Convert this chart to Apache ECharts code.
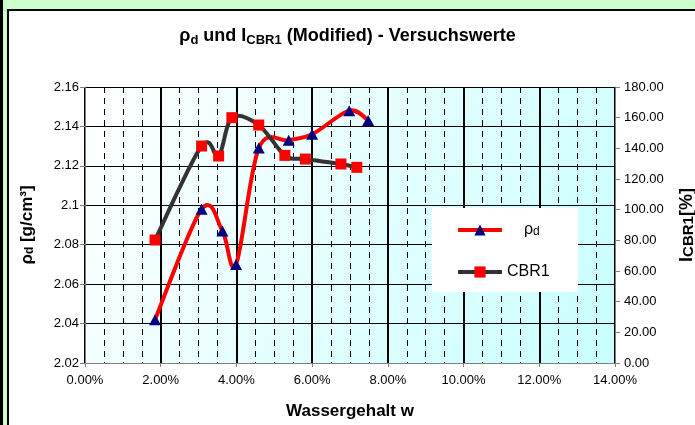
<!DOCTYPE html>
<html>
<head>
<meta charset="utf-8">
<script src="https://cdn.jsdelivr.net/npm/echarts/dist/echarts.min.js"></script>
<style>
  html, body { margin: 0; padding: 0; background: #ffffff; overflow: hidden; }
  #chart { width: 695px; height: 425px; }
</style>
</head>
<body>
<div id="chart"></div>
<script>
const FONT = "'Liberation Sans', Arial, sans-serif";

// Trockendichte ρd [g/cm³] über Wassergehalt w [%]
const wRho = [1.85, 3.08, 3.63, 3.99, 4.59, 5.38, 6.00, 6.98, 7.48];
const rhoD = [2.042, 2.098, 2.087, 2.070, 2.129, 2.133, 2.136, 2.148, 2.143];

// CBR1-Werte [%] über Wassergehalt w [%]
const wCbr = [1.85, 3.08, 3.53, 3.88, 4.59, 5.28, 5.82, 6.76, 7.18];
const cbr1 = [80.2, 141.5, 135.0, 160.0, 155.2, 135.4, 133.0, 129.8, 127.6];

// Achsenbereiche: [min, max, Schrittweite]
const wAxis = [0, 14, 2];
const rhoAxis = [2.02, 2.16, 0.02];
const cbrAxis = [0, 180, 20];

const seriesNames = ['ρd', 'CBR1'];

function richSet(size, subSize) {
  return {
    m: { fontSize: size, fontWeight: 'bold', fontFamily: FONT, color: '#000', verticalAlign: 'middle' },
    s: { fontSize: subSize, fontWeight: 'bold', fontFamily: FONT, color: '#000', verticalAlign: 'bottom' }
  };
}

// Geglättete Kurve (Catmull-Rom -> kubische Bézier) zwischen den Messpunkten,
// ein Segment pro Datenelement, Pixelkoordinaten über api.coord der Achsen.
function smoothSegments(xs, ys, color) {
  return function (params, api) {
    const i = params.dataIndex;
    const n = xs.length;
    const p = k => api.coord([xs[Math.max(0, Math.min(n - 1, k))], ys[Math.max(0, Math.min(n - 1, k))]]);
    const p0 = p(i - 1), p1 = p(i), p2 = p(i + 1), p3 = p(i + 2);
    const t = 1 / 6;
    return {
      type: 'bezierCurve',
      shape: {
        x1: p1[0], y1: p1[1],
        x2: p2[0], y2: p2[1],
        cpx1: p1[0] + (p2[0] - p0[0]) * t,
        cpy1: p1[1] + (p2[1] - p0[1]) * t,
        cpx2: p2[0] - (p3[0] - p1[0]) * t,
        cpy2: p2[1] - (p3[1] - p1[1]) * t
      },
      style: { stroke: color, lineWidth: 4, fill: null, lineCap: 'round' },
      silent: true
    };
  };
}

const chart = echarts.init(document.getElementById('chart'), null, { renderer: 'canvas' });

const option = {
  animation: false,
  backgroundColor: '#ffffff',
  textStyle: { fontFamily: FONT },
  title: {
    text: '{m|ρ}{s|d}{m| und I}{s|CBR1}{m| (Modified) - Versuchswerte}',
    left: 'center',
    top: 20,
    textStyle: { fontSize: 18, lineHeight: 22, rich: richSet(18, 13) }
  },
  graphic: {
    elements: [
      { type: 'rect', shape: { x: 0, y: 0, width: 695, height: 10 }, style: { fill: '#ccffcc' }, silent: true },
      { type: 'rect', shape: { x: 0, y: 0, width: 8, height: 425 }, style: { fill: '#ccffcc' }, silent: true },
      { type: 'rect', shape: { x: 0, y: 0, width: 3, height: 425 }, style: { fill: '#000000' }, silent: true },
      { type: 'rect', shape: { x: 7, y: 9, width: 688, height: 2 }, style: { fill: '#000000' }, silent: true },
      { type: 'rect', shape: { x: 7, y: 9, width: 2, height: 416 }, style: { fill: '#000000' }, silent: true },
      { type: 'rect', z: 3, shape: { x: 432, y: 208, width: 146, height: 84 }, style: { fill: '#ffffff' }, silent: true }
    ]
  },
  legend: {
    orient: 'vertical',
    left: 456,
    top: 222,
    padding: 0,
    itemWidth: 44,
    itemHeight: 14,
    itemGap: 26,
    data: [
      { name: seriesNames[0], lineStyle: { color: '#ff0000', width: 4, opacity: 1 } },
      { name: seriesNames[1], lineStyle: { color: '#333333', width: 4, opacity: 1 } }
    ],
    formatter: function (name) {
      return name === 'ρd' ? '{p|ρ}{ps|d}' : '{c|CBR1}';
    },
    textStyle: {
      color: '#000',
      fontSize: 16,
      fontFamily: FONT,
      rich: {
        p: { fontSize: 16, fontFamily: FONT, color: '#000', padding: [0, 0, 0, 17], verticalAlign: 'middle' },
        ps: { fontSize: 12, fontFamily: FONT, color: '#000', verticalAlign: 'bottom' },
        c: { fontSize: 16, fontFamily: FONT, color: '#000' }
      }
    }
  },
  grid: {
    left: 85,
    right: 80,
    top: 87,
    bottom: 62,
    outerBoundsMode: 'none',
    containLabel: false,
    show: true,
    borderWidth: 0,
    backgroundColor: {
      type: 'linear', x: 0, y: 0, x2: 1, y2: 1,
      colorStops: [{ offset: 0, color: '#ffffff' }, { offset: 1, color: '#c8ffff' }]
    }
  },
  xAxis: {
    type: 'value',
    min: wAxis[0],
    max: wAxis[1],
    interval: wAxis[2],
    name: 'Wassergehalt w',
    nameLocation: 'middle',
    nameGap: 40,
    nameTextStyle: { fontSize: 17, fontWeight: 'bold', color: '#000', fontFamily: FONT },
    axisLine: { show: true, lineStyle: { color: '#808080', width: 1 } },
    axisTick: { show: true, length: 4, lineStyle: { color: '#808080' } },
    axisLabel: {
      color: '#000', fontSize: 13, fontFamily: FONT, margin: 11,
      formatter: v => v.toFixed(2) + '%'
    },
    splitLine: { show: true, lineStyle: { color: '#000000', width: 2 } },
    minorTick: { show: false, splitNumber: 4 },
    minorSplitLine: { show: true, lineStyle: { color: '#000000', width: 1, type: [6, 5] } }
  },
  yAxis: [
    {
      type: 'value',
      min: rhoAxis[0],
      max: rhoAxis[1],
      interval: rhoAxis[2],
      name: '{m|ρ}{s|d}{m| [g/cm³]}',
      nameLocation: 'middle',
      nameRotate: 90,
      nameGap: 49,
      nameTextStyle: { fontSize: 17, rich: richSet(17, 12) },
      axisLine: { show: true, lineStyle: { color: '#808080', width: 1 } },
      axisTick: { show: true, length: 5, lineStyle: { color: '#808080' } },
      axisLabel: { color: '#000', fontSize: 13, fontFamily: FONT, margin: 6 },
      splitLine: { show: true, lineStyle: { color: '#000000', width: 1 } }
    },
    {
      type: 'value',
      position: 'right',
      min: cbrAxis[0],
      max: cbrAxis[1],
      interval: cbrAxis[2],
      name: '{m|I}{s|CBR1}{m|[%]}',
      nameLocation: 'middle',
      nameRotate: 90,
      nameGap: 63,
      nameTextStyle: { fontSize: 18, rich: richSet(18, 15) },
      axisLine: { show: true, lineStyle: { color: '#808080', width: 1 } },
      axisTick: { show: true, length: 5, lineStyle: { color: '#808080' } },
      axisLabel: { color: '#000', fontSize: 13, fontFamily: FONT, margin: 9, formatter: v => v.toFixed(2) },
      splitLine: { show: false }
    }
  ],
  series: [
    {
      type: 'custom',
      yAxisIndex: 0,
      data: wRho.slice(0, -1).map((w, i) => [w, rhoD[i]]),
      renderItem: smoothSegments(wRho, rhoD, '#ff0000'),
      z: 2,
      silent: true
    },
    {
      name: seriesNames[0],
      type: 'line',
      yAxisIndex: 0,
      data: wRho.map((w, i) => [w, rhoD[i]]),
      symbol: 'triangle',
      symbolSize: [12, 11],
      lineStyle: { color: '#ff0000', width: 4, opacity: 0 },
      itemStyle: { color: '#000080' },
      z: 2
    },
    {
      type: 'custom',
      yAxisIndex: 1,
      data: wCbr.slice(0, -1).map((w, i) => [w, cbr1[i]]),
      renderItem: smoothSegments(wCbr, cbr1, '#333333'),
      z: 3,
      silent: true
    },
    {
      name: seriesNames[1],
      type: 'line',
      yAxisIndex: 1,
      data: wCbr.map((w, i) => [w, cbr1[i]]),
      symbol: 'rect',
      symbolSize: 11,
      lineStyle: { color: '#333333', width: 4, opacity: 0 },
      itemStyle: { color: '#ff0000' },
      z: 3
    }
  ]
};

chart.setOption(option);
</script>
</body>
</html>
